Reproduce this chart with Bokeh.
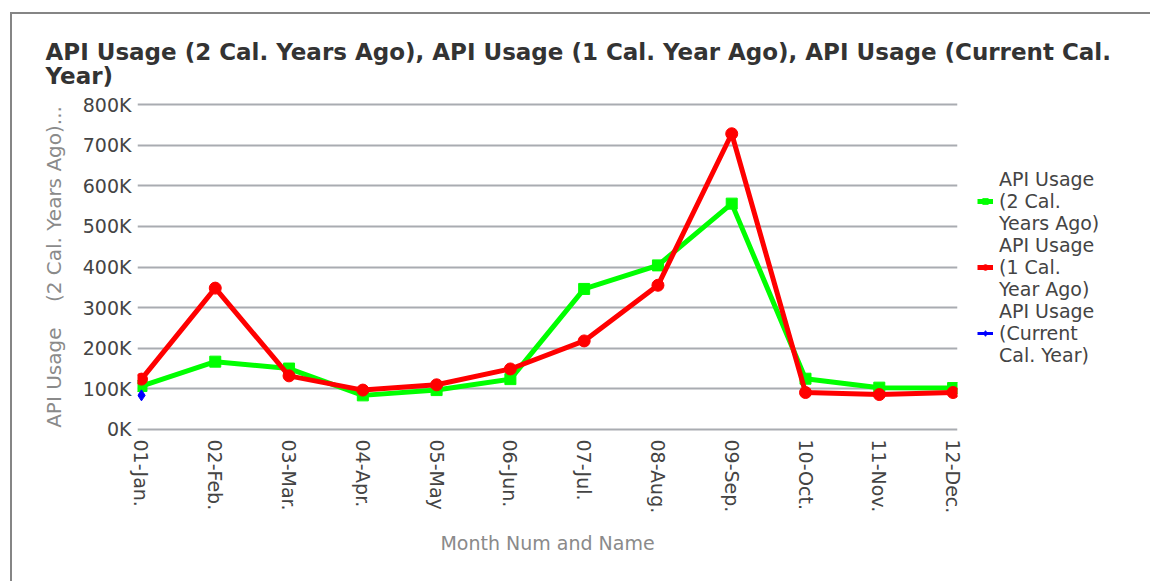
import math
from bokeh.plotting import figure
from bokeh.models import Range1d, FixedTicker, Legend, LegendItem
from bokeh.embed import file_html
from bokeh.resources import INLINE

months = ["01-Jan.", "02-Feb.", "03-Mar.", "04-Apr.", "05-May", "06-Jun.",
          "07-Jul.", "08-Aug.", "09-Sep.", "10-Oct.", "11-Nov.", "12-Dec."]
usage_2y = [107000, 167000, 150000, 84000, 97000, 124000,
            346000, 404000, 556000, 125000, 103000, 102000]
usage_1y = [124000, 348000, 132000, 97000, 110000, 149000,
            218000, 355000, 728000, 91000, 86000, 91000]
usage_cur_months = ["01-Jan."]
usage_cur = [84000]
y_ticks = [0, 100000, 200000, 300000, 400000, 500000, 600000, 700000, 800000]
y_tick_labels = ["0K", "100K", "200K", "300K", "400K", "500K", "600K", "700K", "800K"]
legend_lines = [["API Usage", "(2 Cal.", "Years Ago)"],
                ["API Usage", "(1 Cal.", "Year Ago)"],
                ["API Usage", "(Current", "Cal. Year)"]]

FONT = "DejaVu Sans"

p = figure(frame_width=820, frame_height=331, output_backend="svg", toolbar_location=None,
           x_range=Range1d(-0.054, 11.06), y_range=Range1d(-7400, 807400),
           min_border_left=125, min_border_right=150, min_border_top=87,
           min_border_bottom=149)
p.styles = {"margin-left": "10px", "margin-top": "12px",
            "border-left": "2px solid #858585", "border-top": "2px solid #858585"}

p.title.text = ("API Usage (2 Cal. Years Ago), API Usage (1 Cal. Year Ago), "
                "API Usage (Current Cal.\nYear)")
p.title.text_font = FONT
p.title.text_font_size = "23px"
p.title.text_font_style = "bold"
p.title.text_color = "#333333"
p.title.align = "left"
p.title.offset = -92
p.title.text_line_height = 0.93
p.title.standoff = 24

p.outline_line_color = None
p.background_fill_color = "white"
p.border_fill_color = "white"

xi = [months.index(m) for m in months]
xc = [months.index(m) for m in usage_cur_months]

# axes
p.xaxis.ticker = FixedTicker(ticks=xi)
p.xaxis.major_label_overrides = {i: m for i, m in zip(xi, months)}
p.xaxis.major_label_orientation = -math.pi / 2
p.xaxis.axis_label = "Month Num and Name"
p.yaxis.ticker = FixedTicker(ticks=y_ticks)
p.yaxis.major_label_overrides = {t: l for t, l in zip(y_ticks, y_tick_labels)}
p.yaxis.axis_label = "API Usage\u00a0\u00a0\u00a0\u00a0(2 Cal. Years Ago)..."
for ax in (p.xaxis[0], p.yaxis[0]):
    ax.axis_line_color = None
    ax.major_tick_line_color = None
    ax.minor_tick_line_color = None
    ax.major_label_text_font = FONT
    ax.major_label_text_font_size = "19px"
    ax.major_label_text_color = "#444444"
    ax.axis_label_text_font = FONT
    ax.axis_label_text_font_size = "19px"
    ax.axis_label_text_font_style = "normal"
    ax.axis_label_text_color = "#8a8a8a"
p.yaxis.axis_label_text_font_size = "20px"
p.xaxis.major_label_standoff = 1
p.xaxis.axis_label_standoff = 16
p.yaxis.major_label_standoff = 0
p.yaxis.axis_label_standoff = 14

p.xgrid.grid_line_color = None
p.ygrid.grid_line_color = "#a9acb1"
p.ygrid.grid_line_width = 2

GREEN = "#00ff00"
RED = "#ff0000"
BLUE = "#0000ff"

l1 = p.line(xi, usage_2y, line_color=GREEN, line_width=5)
m1 = p.scatter(xi, usage_2y, marker="square", size=11, fill_color=GREEN, line_color=GREEN)
l2 = p.line(xi, usage_1y, line_color=RED, line_width=5)
m2 = p.scatter(xi, usage_1y, marker="circle", size=12, fill_color=RED, line_color=RED)
l3 = p.line(xc, usage_cur, line_color=BLUE, line_width=3)
m3 = p.scatter(xc, usage_cur, marker="diamond", size=11, fill_color=BLUE, line_color=BLUE)

# invisible renderer used for legend text-only rows
blank = p.line([], [], line_alpha=0)

items = []
for lines, rends in zip(legend_lines, [[l1, m1], [l2, m2], [l3, m3]]):
    items.append(LegendItem(label=lines[0], renderers=[blank]))
    items.append(LegendItem(label=lines[1], renderers=rends))
    items.append(LegendItem(label=lines[2], renderers=[blank]))

legend = Legend(items=items, location="left")
legend.label_text_font = FONT
legend.label_text_font_size = "19px"
legend.label_text_color = "#444444"
legend.label_height = 19
legend.glyph_height = 14
legend.spacing = 0
legend.glyph_width = 16
legend.label_standoff = 6
legend.border_line_color = None
legend.background_fill_alpha = 0
legend.padding = 10
legend.margin = 20
p.add_layout(legend, "right")

open("out.html", "w").write(file_html(p, INLINE))
